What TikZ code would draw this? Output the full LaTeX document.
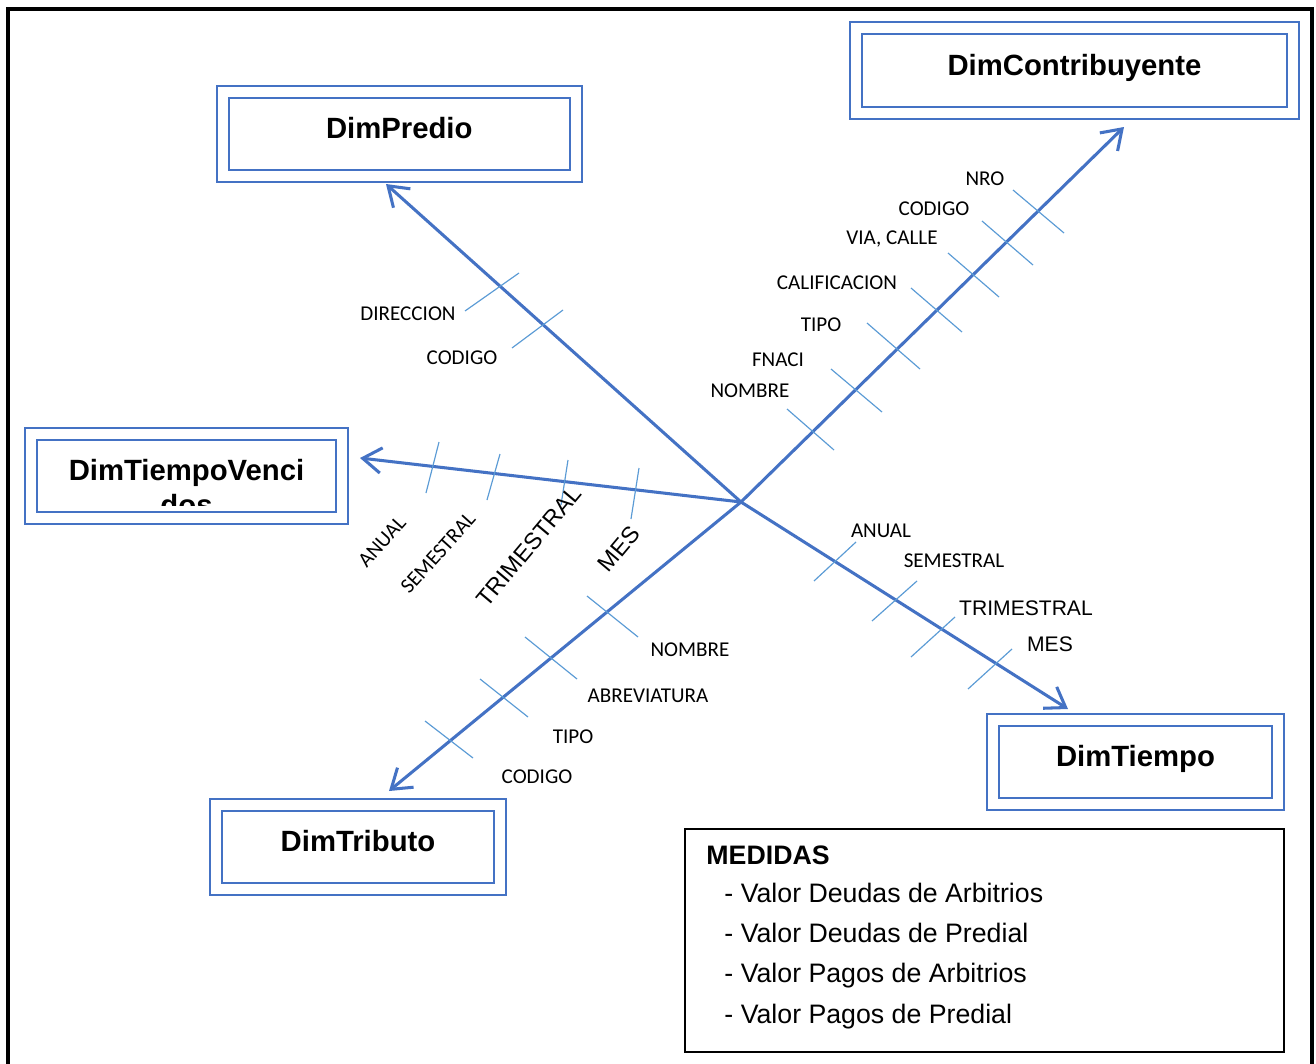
\documentclass[tikz,border=0pt]{standalone}
\usepackage{fontspec}
\setmainfont{Liberation Sans}
\newfontfamily\calibrifont{Carlito}
\usepackage{tikz}
\usetikzlibrary{arrows.meta,positioning,calc}
\definecolor{dimblue}{HTML}{4472C4}
\definecolor{tickblue}{HTML}{5B9BD5}
\tikzset{
  >=Straight Barb,
}

\begin{document}
\begin{tikzpicture}[x=0.015cm, y=-0.015cm,
  dim/.style={draw=dimblue, line width=0.85pt, double, double distance=0.15cm, minimum height=1.265cm, inner sep=0pt,
    font=\fontsize{12.5}{15}\selectfont\bfseries, text height=10pt, text depth=6pt},
  arr/.style={-{Straight Barb[length=2.8mm, width=3.8mm]}, draw=dimblue, line width=1.3pt},
  tick/.style={draw=tickblue, line width=0.5pt},
  attr/.style={font=\calibrifont\fontsize{9}{11}\selectfont, inner sep=0pt},
  attrA/.style={font=\fontsize{9}{11}\selectfont, inner sep=0pt},
  med/.style={font=\fontsize{11.4}{14}\selectfont, inner sep=0pt}
]
  \useasboundingbox (0,0) rectangle (1316,1064);
  \draw[line width=1.3pt] (8,1064) -- (8,9) -- (1312,9) -- (1312,1064);

  % dimensiones
  \node[dim, minimum width=5.2875cm] (predio) at (399.25,134.25) {DimPredio};
  \node[dim, minimum width=6.555cm] (contrib) at (1074.5,70.5) {DimContribuyente};
  \node[dim, minimum width=4.665cm] (vencidos) at (186.5,476.25) {DimTiempoVenci};
  \begin{scope}
    \clip (vencidos.north west) rectangle ($(vencidos.south east)+(0,-14)$);
    \node[font=\fontsize{12.5}{15}\selectfont\bfseries, anchor=base, inner sep=0pt] (vencDos) at (186.5,515) {dos};
  \end{scope}
  \node[dim, minimum width=4.275cm] (tiempo) at (1135.5,762) {DimTiempo};
  \node[dim, minimum width=4.26cm] (tributo) at (358,847.25) {DimTributo};

  % ejes
  \coordinate (hub) at (741,502);
  \coordinate (tipPredio) at (386,184);
  \coordinate (tipContrib) at (1124,127);
  \coordinate (tipVenc) at (360,458);
  \coordinate (tipTiempo) at (1068,709);
  \coordinate (tipTributo) at (389,791);
  \draw[arr] (hub) -- (tipPredio);
  \draw[arr] (hub) -- (tipContrib);
  \draw[arr] (hub) -- (tipVenc);
  \draw[arr] (hub) -- (tipTiempo);
  \draw[arr] (hub) -- (tipTributo);

  % marcas
  \foreach \ax/\ay/\bx/\by in {465/311/519/273, 512/348/563/310,
      1013/190/1064/233, 982/221/1033/265, 948/253/999/297, 911/288/962/332,
      867/323/920/369, 831/369/882/412, 787/409/834/450,
      439/442/426/493, 500/454/487/500, 568/460/561/505, 639/468/631/519,
      814/581/856/542, 872/621/917/581, 911/657/955/617, 968/689/1012/649,
      587/596/638/637, 525/637/577/679, 480/679/528/717, 425/721/473/758}
    \draw[tick] (\ax,\ay) -- (\bx,\by);

  % atributos DimPredio
  \node[attr] (pDir) at (408,314) {DIRECCION};
  \node[attr] (pCod) at (462,358) {CODIGO};
  % atributos DimContribuyente
  \node[attr] (cNro) at (985,179) {NRO};
  \node[attr] (cCod) at (934,209) {CODIGO};
  \node[attr] (cVia) at (892,239) {VIA, CALLE};
  \node[attr] (cCal) at (837,283) {CALIFICACION};
  \node[attr] (cTipo) at (821,325) {TIPO};
  \node[attr] (cFna) at (778,360) {FNACI};
  \node[attr] (cNom) at (750,391) {NOMBRE};
  % atributos DimTiempoVencidos
  \node[attr, rotate=48] (vAnu) at (382,542) {ANUAL};
  \node[attr, rotate=48] (vSem) at (438,553) {SEMESTRAL};
  \node[attrA, font=\fontsize{10}{12}\selectfont, rotate=50] (vTri) at (529,546) {TRIMESTRAL};
  \node[attrA, font=\fontsize{10}{12}\selectfont, rotate=50] (vMes) at (619,549) {MES};
  % atributos DimTiempo
  \node[attr] (tAnu) at (881,531) {ANUAL};
  \node[attr] (tSem) at (954,561) {SEMESTRAL};
  \node[attrA] (tTri) at (1026,608) {TRIMESTRAL};
  \node[attrA] (tMes) at (1050,644) {MES};
  % atributos DimTributo
  \node[attr] (bNom) at (690,650) {NOMBRE};
  \node[attr] (bAbr) at (648,696) {ABREVIATURA};
  \node[attr] (bTipo) at (573,737) {TIPO};
  \node[attr] (bCod) at (537,777) {CODIGO};

  % medidas
  \node[draw, line width=0.7pt, minimum width=8.985cm, minimum height=3.345cm, inner sep=0pt] (medidas) at (984.5,940.5) {};
  \node[med, anchor=base west, font=\fontsize{11.4}{14}\selectfont\bfseries] (medTitle) at (706,864) {MEDIDAS};
  \foreach \t [count=\i] in {Valor Deudas de Arbitrios, Valor Deudas de Predial,
      Valor Pagos de Arbitrios, Valor Pagos de Predial}
    \node[med, anchor=base west] (med\i) at (724,{862+40.3*\i}) {-\ \t};
\end{tikzpicture}
\end{document}
